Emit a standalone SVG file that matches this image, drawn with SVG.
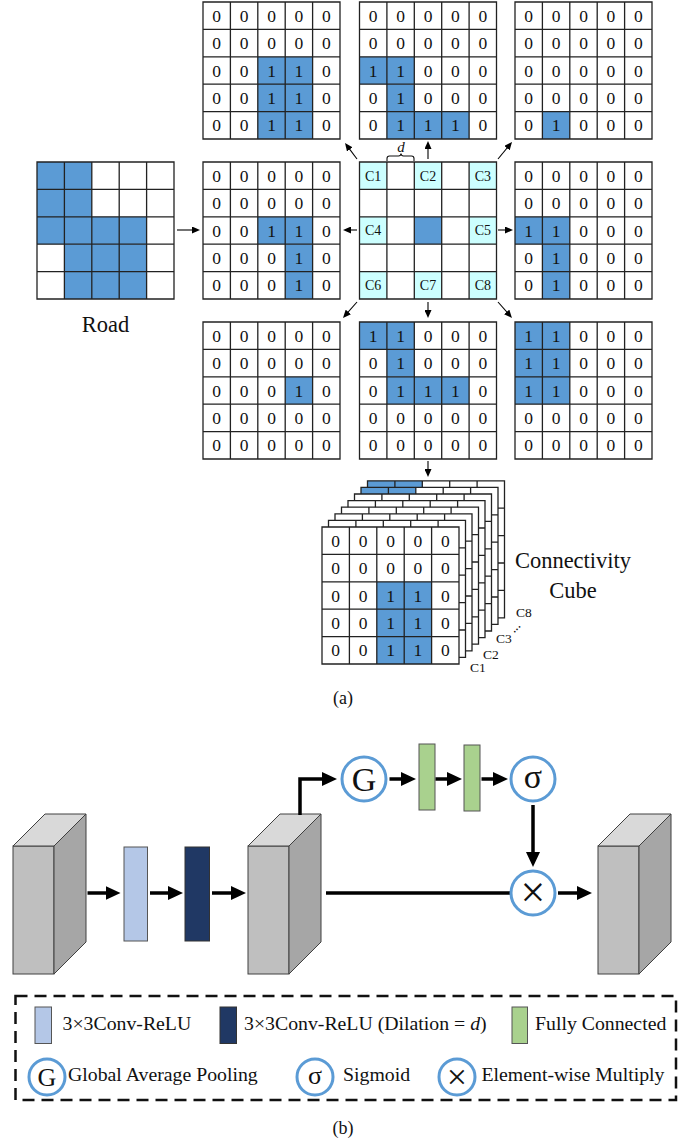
<svg xmlns="http://www.w3.org/2000/svg" xmlns:xlink="http://www.w3.org/1999/xlink" width="683" height="1142" viewBox="0 0 683 1142">
<style>
.n{font-family:"Liberation Serif",serif;font-size:17.5px;text-anchor:middle;fill:#111}
.c{font-family:"Liberation Serif",serif;font-size:14px;text-anchor:middle;fill:#111}
.cs{font-family:"Liberation Serif",serif;font-size:13.5px;fill:#111}
.t{font-family:"Liberation Serif",serif;font-size:22.5px;text-anchor:middle;fill:#111}
.lg{font-family:"Liberation Serif",serif;font-size:19.8px;fill:#111}
.sym{font-family:"Liberation Serif",serif;text-anchor:middle;fill:#111}
.b{fill:#5b9bd5}
.cy{fill:#ccffff}
.w{fill:#fff}
.ln{stroke:#000;stroke-width:1.1;fill:none;marker-end:url(#ah)}
.th{stroke:#000;stroke-width:3.5;fill:none;marker-end:url(#AH)}
.thn{stroke:#000;stroke-width:3.5;fill:none}
.ci{fill:#fff;stroke:#5b9bd5;stroke-width:3}
.fr{fill:#bfbfbf;stroke:#404040;stroke-width:1}
.tp{fill:#d9d9d9;stroke:#404040;stroke-width:1}
.sd{fill:#a6a6a6;stroke:#404040;stroke-width:1}
</style>
<defs>
<path id="gl" d="M0,0H137V137H0Z M27.4,0V137 M54.8,0V137 M82.2,0V137 M109.6,0V137 M0,27.4H137 M0,54.8H137 M0,82.2H137 M0,109.6H137" fill="none" stroke="#222" stroke-width="1.3"/>
<marker id="ah" markerUnits="userSpaceOnUse" markerWidth="8" markerHeight="7" refX="5" refY="3.5" orient="auto"><path d="M0,0L8,3.5L0,7z" fill="#000"/></marker>
<marker id="AH" markerUnits="userSpaceOnUse" markerWidth="15" markerHeight="14" refX="10" refY="7" orient="auto"><path d="M0,0L15,7L0,14z" fill="#000"/></marker>
</defs>

<!-- Road -->
<g id="road" transform="translate(37,162)">
<rect class="b" x="0" y="0" width="54.8" height="82.2"/>
<rect class="b" x="54.8" y="54.8" width="54.8" height="27.4"/>
<rect class="b" x="27.4" y="82.2" width="82.2" height="54.8"/>
<use href="#gl"/>
</g>
<text id="road-label" class="t" x="105.5" y="332">Road</text>

<!-- C1 grid -->
<g id="grid-c1" transform="translate(203,2)">
<rect class="b" x="54.8" y="54.8" width="54.8" height="82.2"/>
<use href="#gl"/>
<text class="n" x="13.7" y="19.8">0</text><text class="n" x="41.1" y="19.8">0</text><text class="n" x="68.5" y="19.8">0</text><text class="n" x="95.9" y="19.8">0</text><text class="n" x="123.3" y="19.8">0</text>
<text class="n" x="13.7" y="47.2">0</text><text class="n" x="41.1" y="47.2">0</text><text class="n" x="68.5" y="47.2">0</text><text class="n" x="95.9" y="47.2">0</text><text class="n" x="123.3" y="47.2">0</text>
<text class="n" x="13.7" y="74.6">0</text><text class="n" x="41.1" y="74.6">0</text><text class="n" x="68.5" y="74.6">1</text><text class="n" x="95.9" y="74.6">1</text><text class="n" x="123.3" y="74.6">0</text>
<text class="n" x="13.7" y="102">0</text><text class="n" x="41.1" y="102">0</text><text class="n" x="68.5" y="102">1</text><text class="n" x="95.9" y="102">1</text><text class="n" x="123.3" y="102">0</text>
<text class="n" x="13.7" y="129.4">0</text><text class="n" x="41.1" y="129.4">0</text><text class="n" x="68.5" y="129.4">1</text><text class="n" x="95.9" y="129.4">1</text><text class="n" x="123.3" y="129.4">0</text>
</g>

<!-- C2 grid -->
<g id="grid-c2" transform="translate(359.5,2)">
<rect class="b" x="0" y="54.8" width="54.8" height="27.4"/>
<rect class="b" x="27.4" y="82.2" width="27.4" height="27.4"/>
<rect class="b" x="27.4" y="109.6" width="82.2" height="27.4"/>
<use href="#gl"/>
<text class="n" x="13.7" y="19.8">0</text><text class="n" x="41.1" y="19.8">0</text><text class="n" x="68.5" y="19.8">0</text><text class="n" x="95.9" y="19.8">0</text><text class="n" x="123.3" y="19.8">0</text>
<text class="n" x="13.7" y="47.2">0</text><text class="n" x="41.1" y="47.2">0</text><text class="n" x="68.5" y="47.2">0</text><text class="n" x="95.9" y="47.2">0</text><text class="n" x="123.3" y="47.2">0</text>
<text class="n" x="13.7" y="74.6">1</text><text class="n" x="41.1" y="74.6">1</text><text class="n" x="68.5" y="74.6">0</text><text class="n" x="95.9" y="74.6">0</text><text class="n" x="123.3" y="74.6">0</text>
<text class="n" x="13.7" y="102">0</text><text class="n" x="41.1" y="102">1</text><text class="n" x="68.5" y="102">0</text><text class="n" x="95.9" y="102">0</text><text class="n" x="123.3" y="102">0</text>
<text class="n" x="13.7" y="129.4">0</text><text class="n" x="41.1" y="129.4">1</text><text class="n" x="68.5" y="129.4">1</text><text class="n" x="95.9" y="129.4">1</text><text class="n" x="123.3" y="129.4">0</text>
</g>

<!-- C3 grid -->
<g id="grid-c3" transform="translate(515,2)">
<rect class="b" x="27.4" y="109.6" width="27.4" height="27.4"/>
<use href="#gl"/>
<text class="n" x="13.7" y="19.8">0</text><text class="n" x="41.1" y="19.8">0</text><text class="n" x="68.5" y="19.8">0</text><text class="n" x="95.9" y="19.8">0</text><text class="n" x="123.3" y="19.8">0</text>
<text class="n" x="13.7" y="47.2">0</text><text class="n" x="41.1" y="47.2">0</text><text class="n" x="68.5" y="47.2">0</text><text class="n" x="95.9" y="47.2">0</text><text class="n" x="123.3" y="47.2">0</text>
<text class="n" x="13.7" y="74.6">0</text><text class="n" x="41.1" y="74.6">0</text><text class="n" x="68.5" y="74.6">0</text><text class="n" x="95.9" y="74.6">0</text><text class="n" x="123.3" y="74.6">0</text>
<text class="n" x="13.7" y="102">0</text><text class="n" x="41.1" y="102">0</text><text class="n" x="68.5" y="102">0</text><text class="n" x="95.9" y="102">0</text><text class="n" x="123.3" y="102">0</text>
<text class="n" x="13.7" y="129.4">0</text><text class="n" x="41.1" y="129.4">1</text><text class="n" x="68.5" y="129.4">0</text><text class="n" x="95.9" y="129.4">0</text><text class="n" x="123.3" y="129.4">0</text>
</g>

<!-- C4 grid -->
<g id="grid-c4" transform="translate(203,162)">
<rect class="b" x="54.8" y="54.8" width="54.8" height="27.4"/>
<rect class="b" x="82.2" y="82.2" width="27.4" height="54.8"/>
<use href="#gl"/>
<text class="n" x="13.7" y="19.8">0</text><text class="n" x="41.1" y="19.8">0</text><text class="n" x="68.5" y="19.8">0</text><text class="n" x="95.9" y="19.8">0</text><text class="n" x="123.3" y="19.8">0</text>
<text class="n" x="13.7" y="47.2">0</text><text class="n" x="41.1" y="47.2">0</text><text class="n" x="68.5" y="47.2">0</text><text class="n" x="95.9" y="47.2">0</text><text class="n" x="123.3" y="47.2">0</text>
<text class="n" x="13.7" y="74.6">0</text><text class="n" x="41.1" y="74.6">0</text><text class="n" x="68.5" y="74.6">1</text><text class="n" x="95.9" y="74.6">1</text><text class="n" x="123.3" y="74.6">0</text>
<text class="n" x="13.7" y="102">0</text><text class="n" x="41.1" y="102">0</text><text class="n" x="68.5" y="102">0</text><text class="n" x="95.9" y="102">1</text><text class="n" x="123.3" y="102">0</text>
<text class="n" x="13.7" y="129.4">0</text><text class="n" x="41.1" y="129.4">0</text><text class="n" x="68.5" y="129.4">0</text><text class="n" x="95.9" y="129.4">1</text><text class="n" x="123.3" y="129.4">0</text>
</g>

<!-- center kernel -->
<g id="kernel" transform="translate(359.5,162)">
<rect class="w" x="0" y="0" width="137" height="137"/>
<rect class="cy" x="0" y="0" width="27.4" height="27.4"/>
<rect class="cy" x="54.8" y="0" width="27.4" height="27.4"/>
<rect class="cy" x="109.6" y="0" width="27.4" height="27.4"/>
<rect class="cy" x="0" y="54.8" width="27.4" height="27.4"/>
<rect class="cy" x="109.6" y="54.8" width="27.4" height="27.4"/>
<rect class="cy" x="0" y="109.6" width="27.4" height="27.4"/>
<rect class="cy" x="54.8" y="109.6" width="27.4" height="27.4"/>
<rect class="cy" x="109.6" y="109.6" width="27.4" height="27.4"/>
<rect class="b" x="54.8" y="54.8" width="27.4" height="27.4"/>
<use href="#gl"/>
<text class="c" x="13.7" y="18.6">C1</text>
<text class="c" x="68.5" y="18.6">C2</text>
<text class="c" x="123.3" y="18.6">C3</text>
<text class="c" x="13.7" y="73.4">C4</text>
<text class="c" x="123.3" y="73.4">C5</text>
<text class="c" x="13.7" y="128.2">C6</text>
<text class="c" x="68.5" y="128.2">C7</text>
<text class="c" x="123.3" y="128.2">C8</text>
</g>
<g id="dilation">
<path d="M387,161V158.5Q387,156 389.5,156H398.5Q400.8,156 401,153.5Q401.2,156 403.5,156H411.5Q414,156 414,158.5V161" fill="none" stroke="#111" stroke-width="1.1"/>
<text class="sym" x="401" y="151.5" style="font-size:15px;font-style:italic">d</text>
</g>

<!-- C5 grid -->
<g id="grid-c5" transform="translate(515,162)">
<rect class="b" x="0" y="54.8" width="54.8" height="27.4"/>
<rect class="b" x="27.4" y="82.2" width="27.4" height="54.8"/>
<use href="#gl"/>
<text class="n" x="13.7" y="19.8">0</text><text class="n" x="41.1" y="19.8">0</text><text class="n" x="68.5" y="19.8">0</text><text class="n" x="95.9" y="19.8">0</text><text class="n" x="123.3" y="19.8">0</text>
<text class="n" x="13.7" y="47.2">0</text><text class="n" x="41.1" y="47.2">0</text><text class="n" x="68.5" y="47.2">0</text><text class="n" x="95.9" y="47.2">0</text><text class="n" x="123.3" y="47.2">0</text>
<text class="n" x="13.7" y="74.6">1</text><text class="n" x="41.1" y="74.6">1</text><text class="n" x="68.5" y="74.6">0</text><text class="n" x="95.9" y="74.6">0</text><text class="n" x="123.3" y="74.6">0</text>
<text class="n" x="13.7" y="102">0</text><text class="n" x="41.1" y="102">1</text><text class="n" x="68.5" y="102">0</text><text class="n" x="95.9" y="102">0</text><text class="n" x="123.3" y="102">0</text>
<text class="n" x="13.7" y="129.4">0</text><text class="n" x="41.1" y="129.4">1</text><text class="n" x="68.5" y="129.4">0</text><text class="n" x="95.9" y="129.4">0</text><text class="n" x="123.3" y="129.4">0</text>
</g>

<!-- C6 grid -->
<g id="grid-c6" transform="translate(203,322)">
<rect class="b" x="82.2" y="54.8" width="27.4" height="27.4"/>
<use href="#gl"/>
<text class="n" x="13.7" y="19.8">0</text><text class="n" x="41.1" y="19.8">0</text><text class="n" x="68.5" y="19.8">0</text><text class="n" x="95.9" y="19.8">0</text><text class="n" x="123.3" y="19.8">0</text>
<text class="n" x="13.7" y="47.2">0</text><text class="n" x="41.1" y="47.2">0</text><text class="n" x="68.5" y="47.2">0</text><text class="n" x="95.9" y="47.2">0</text><text class="n" x="123.3" y="47.2">0</text>
<text class="n" x="13.7" y="74.6">0</text><text class="n" x="41.1" y="74.6">0</text><text class="n" x="68.5" y="74.6">0</text><text class="n" x="95.9" y="74.6">1</text><text class="n" x="123.3" y="74.6">0</text>
<text class="n" x="13.7" y="102">0</text><text class="n" x="41.1" y="102">0</text><text class="n" x="68.5" y="102">0</text><text class="n" x="95.9" y="102">0</text><text class="n" x="123.3" y="102">0</text>
<text class="n" x="13.7" y="129.4">0</text><text class="n" x="41.1" y="129.4">0</text><text class="n" x="68.5" y="129.4">0</text><text class="n" x="95.9" y="129.4">0</text><text class="n" x="123.3" y="129.4">0</text>
</g>

<!-- C7 grid -->
<g id="grid-c7" transform="translate(359.5,322)">
<rect class="b" x="0" y="0" width="54.8" height="27.4"/>
<rect class="b" x="27.4" y="27.4" width="27.4" height="27.4"/>
<rect class="b" x="27.4" y="54.8" width="82.2" height="27.4"/>
<use href="#gl"/>
<text class="n" x="13.7" y="19.8">1</text><text class="n" x="41.1" y="19.8">1</text><text class="n" x="68.5" y="19.8">0</text><text class="n" x="95.9" y="19.8">0</text><text class="n" x="123.3" y="19.8">0</text>
<text class="n" x="13.7" y="47.2">0</text><text class="n" x="41.1" y="47.2">1</text><text class="n" x="68.5" y="47.2">0</text><text class="n" x="95.9" y="47.2">0</text><text class="n" x="123.3" y="47.2">0</text>
<text class="n" x="13.7" y="74.6">0</text><text class="n" x="41.1" y="74.6">1</text><text class="n" x="68.5" y="74.6">1</text><text class="n" x="95.9" y="74.6">1</text><text class="n" x="123.3" y="74.6">0</text>
<text class="n" x="13.7" y="102">0</text><text class="n" x="41.1" y="102">0</text><text class="n" x="68.5" y="102">0</text><text class="n" x="95.9" y="102">0</text><text class="n" x="123.3" y="102">0</text>
<text class="n" x="13.7" y="129.4">0</text><text class="n" x="41.1" y="129.4">0</text><text class="n" x="68.5" y="129.4">0</text><text class="n" x="95.9" y="129.4">0</text><text class="n" x="123.3" y="129.4">0</text>
</g>

<!-- C8 grid -->
<g id="grid-c8" transform="translate(515,322)">
<rect class="b" x="0" y="0" width="54.8" height="82.2"/>
<use href="#gl"/>
<text class="n" x="13.7" y="19.8">1</text><text class="n" x="41.1" y="19.8">1</text><text class="n" x="68.5" y="19.8">0</text><text class="n" x="95.9" y="19.8">0</text><text class="n" x="123.3" y="19.8">0</text>
<text class="n" x="13.7" y="47.2">1</text><text class="n" x="41.1" y="47.2">1</text><text class="n" x="68.5" y="47.2">0</text><text class="n" x="95.9" y="47.2">0</text><text class="n" x="123.3" y="47.2">0</text>
<text class="n" x="13.7" y="74.6">1</text><text class="n" x="41.1" y="74.6">1</text><text class="n" x="68.5" y="74.6">0</text><text class="n" x="95.9" y="74.6">0</text><text class="n" x="123.3" y="74.6">0</text>
<text class="n" x="13.7" y="102">0</text><text class="n" x="41.1" y="102">0</text><text class="n" x="68.5" y="102">0</text><text class="n" x="95.9" y="102">0</text><text class="n" x="123.3" y="102">0</text>
<text class="n" x="13.7" y="129.4">0</text><text class="n" x="41.1" y="129.4">0</text><text class="n" x="68.5" y="129.4">0</text><text class="n" x="95.9" y="129.4">0</text><text class="n" x="123.3" y="129.4">0</text>
</g>

<!-- Connectivity cube -->
<g id="cube">
<g transform="translate(367.5,480.8)"><rect class="w" width="137" height="137"/><rect class="b" x="0" y="0" width="54.8" height="82.2"/><use href="#gl"/></g>
<g transform="translate(361,487.4)"><rect class="w" width="137" height="137"/><rect class="b" x="0" y="0" width="54.8" height="27.4"/><use href="#gl"/></g>
<g transform="translate(354.5,494)"><rect class="w" width="137" height="137"/><use href="#gl"/></g>
<g transform="translate(348,500.6)"><rect class="w" width="137" height="137"/><use href="#gl"/></g>
<g transform="translate(341.5,507.2)"><rect class="w" width="137" height="137"/><use href="#gl"/></g>
<g transform="translate(335,513.8)"><rect class="w" width="137" height="137"/><use href="#gl"/></g>
<g transform="translate(328.5,520.4)"><rect class="w" width="137" height="137"/><use href="#gl"/></g>
<g transform="translate(322,527)">
<rect class="w" width="137" height="137"/>
<rect class="b" x="54.8" y="54.8" width="54.8" height="82.2"/>
<use href="#gl"/>
<text class="n" x="13.7" y="19.8">0</text><text class="n" x="41.1" y="19.8">0</text><text class="n" x="68.5" y="19.8">0</text><text class="n" x="95.9" y="19.8">0</text><text class="n" x="123.3" y="19.8">0</text>
<text class="n" x="13.7" y="47.2">0</text><text class="n" x="41.1" y="47.2">0</text><text class="n" x="68.5" y="47.2">0</text><text class="n" x="95.9" y="47.2">0</text><text class="n" x="123.3" y="47.2">0</text>
<text class="n" x="13.7" y="74.6">0</text><text class="n" x="41.1" y="74.6">0</text><text class="n" x="68.5" y="74.6">1</text><text class="n" x="95.9" y="74.6">1</text><text class="n" x="123.3" y="74.6">0</text>
<text class="n" x="13.7" y="102">0</text><text class="n" x="41.1" y="102">0</text><text class="n" x="68.5" y="102">1</text><text class="n" x="95.9" y="102">1</text><text class="n" x="123.3" y="102">0</text>
<text class="n" x="13.7" y="129.4">0</text><text class="n" x="41.1" y="129.4">0</text><text class="n" x="68.5" y="129.4">1</text><text class="n" x="95.9" y="129.4">1</text><text class="n" x="123.3" y="129.4">0</text>
</g>
<text class="cs" x="470" y="671.5">C1</text>
<text class="cs" x="483" y="658.5">C2</text>
<text class="cs" x="496" y="643">C3</text>
<text class="cs" x="510" y="630" transform="rotate(-45 516 627)">...</text>
<text class="cs" x="516" y="616.5">C8</text>
<text class="t" x="573" y="568">Connectivity</text>
<text class="t" x="573" y="598">Cube</text>
</g>
<text id="label-a" class="sym" x="343" y="704" style="font-size:18px">(a)</text>

<!-- connectors part a -->
<g id="connectors-a">
<line class="ln" x1="177" y1="230" x2="197" y2="230"/>
<line class="ln" x1="357" y1="230" x2="346" y2="230"/>
<line class="ln" x1="498" y1="230" x2="510" y2="230"/>
<line class="ln" x1="428" y1="159" x2="428" y2="144"/>
<line class="ln" x1="357" y1="159" x2="346.8" y2="145.4"/>
<line class="ln" x1="498" y1="159" x2="510.1" y2="144.3"/>
<line class="ln" x1="357" y1="302" x2="345" y2="315.7"/>
<line class="ln" x1="428" y1="302" x2="428" y2="315"/>
<line class="ln" x1="498" y1="302" x2="510" y2="315.7"/>
<line class="ln" x1="428" y1="461" x2="428" y2="474"/>
</g>

<!-- part b nodes -->
<g id="block-in">
<rect class="fr" x="13" y="846" width="41" height="128"/>
<path class="tp" d="M13,846H54L86,814H45Z"/>
<path class="sd" d="M54,846L86,814V942L54,974Z"/>
</g>
<rect id="conv" x="124" y="847" width="23.5" height="94" fill="#b4c7e7" stroke="#555" stroke-width="1"/>
<rect id="dconv" x="185" y="847" width="24.5" height="94" fill="#203864" stroke="#333" stroke-width="1"/>
<g id="block-mid">
<rect class="fr" x="248" y="846" width="41" height="128"/>
<path class="tp" d="M248,846H289L321,814H280Z"/>
<path class="sd" d="M289,846L321,814V942L289,974Z"/>
</g>
<g id="block-out">
<rect class="fr" x="598" y="846" width="41" height="128"/>
<path class="tp" d="M598,846H639L671,814H630Z"/>
<path class="sd" d="M639,846L671,814V942L639,974Z"/>
</g>
<g id="gap"><circle class="ci" cx="364" cy="779" r="22"/><text class="sym" x="364" y="791" style="font-size:34px">G</text></g>
<rect id="fc1" x="419" y="744" width="16" height="66" fill="#a9d18e" stroke="#555" stroke-width="1"/>
<rect id="fc2" x="464" y="745" width="16" height="66" fill="#a9d18e" stroke="#555" stroke-width="1"/>
<g id="sigmoid"><circle class="ci" cx="533" cy="779" r="22"/><text class="sym" x="533" y="787.5" style="font-size:34px">σ</text></g>

<!-- connectors part b -->
<g id="connectors-b">
<line class="th" x1="87.5" y1="893" x2="115.5" y2="893"/>
<line class="th" x1="150" y1="893" x2="178" y2="893"/>
<line class="th" x1="212" y1="893" x2="241" y2="893"/>
<line class="thn" x1="326" y1="893" x2="512" y2="893"/>
<line class="th" x1="558" y1="893" x2="587" y2="893"/>
<path class="th" d="M300,815V779H332"/>
<line class="th" x1="389.5" y1="779" x2="411" y2="779"/>
<line class="th" x1="435.5" y1="779" x2="457" y2="779"/>
<line class="th" x1="481.5" y1="779" x2="503" y2="779"/>
<line class="th" x1="533" y1="805" x2="533" y2="862"/>
</g>
<g id="multiply"><circle class="ci" cx="533" cy="893" r="22"/><text class="sym" x="533" y="907" style="font-size:44px">×</text></g>

<!-- legend -->
<g id="legend">
<rect x="15.5" y="996" width="660.5" height="104" fill="none" stroke="#111" stroke-width="2.5" stroke-dasharray="12 7"/>
<rect x="35" y="1007" width="16.5" height="36.5" fill="#b4c7e7" stroke="#555" stroke-width="1"/>
<text class="lg" x="62.5" y="1030">3×3Conv-ReLU</text>
<rect x="220" y="1007" width="16.5" height="36.5" fill="#203864" stroke="#333" stroke-width="1"/>
<text class="lg" x="244" y="1030">3×3Conv-ReLU (Dilation = <tspan font-style="italic">d</tspan>)</text>
<rect x="512" y="1007" width="15.5" height="36.5" fill="#a9d18e" stroke="#555" stroke-width="1"/>
<text class="lg" x="535" y="1030">Fully Connected</text>
<circle class="ci" cx="47" cy="1077" r="18"/>
<text class="sym" x="47" y="1086" style="font-size:26px">G</text>
<text class="lg" x="68" y="1080.5">Global Average Pooling</text>
<circle class="ci" cx="315" cy="1077" r="18"/>
<text class="sym" x="315" y="1083.5" style="font-size:26px">σ</text>
<text class="lg" x="343" y="1080.5">Sigmoid</text>
<circle class="ci" cx="457" cy="1077" r="18"/>
<text class="sym" x="457" y="1088.5" style="font-size:36px">×</text>
<text class="lg" x="481.5" y="1080.5">Element-wise Multiply</text>
</g>
<text id="label-b" class="sym" x="343" y="1134" style="font-size:18px">(b)</text>
</svg>
